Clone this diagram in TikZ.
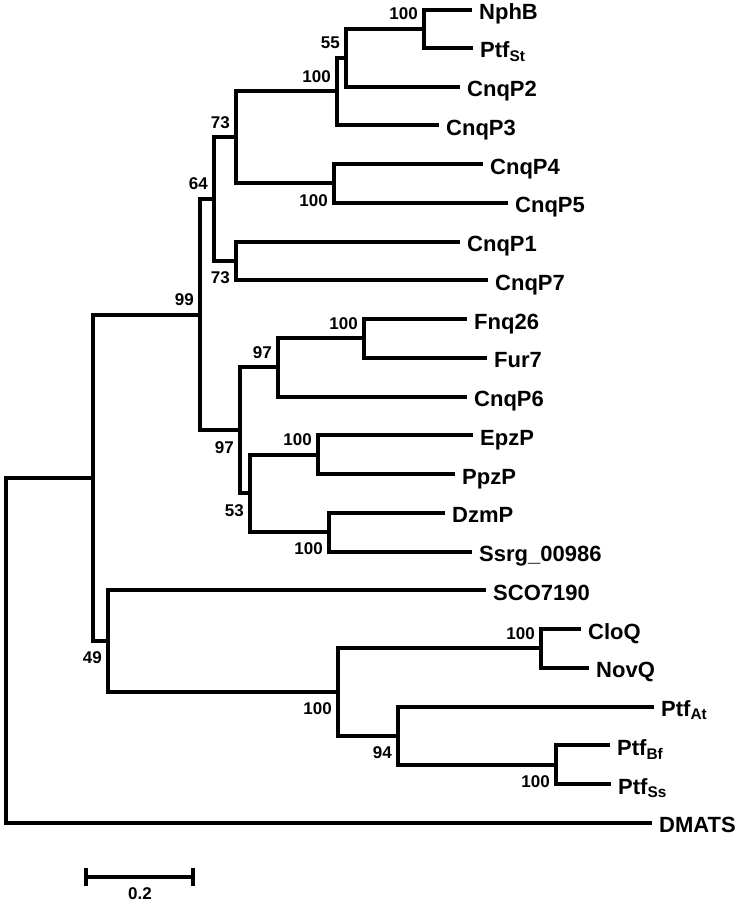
\documentclass[tikz,border=0pt]{standalone}
\usepackage{fontspec}
\setmainfont{Liberation Sans}
\begin{document}
\begin{tikzpicture}[x=1pt,y=-1pt,
  branch/.style={line width=4pt,line cap=butt,line join=miter,black},
  leaf/.style={anchor=base west,inner sep=0pt,font=\bfseries\fontsize{22}{25}\selectfont},
  bs/.style={anchor=east,inner sep=0pt,font=\bfseries\fontsize{17}{20}\selectfont}]
\useasboundingbox (0,0) rectangle (740,905);
% leaf line ends
\coordinate (nphbE)  at (472,9.5);
\coordinate (ptfstE) at (473,47.75);
\coordinate (p2E)    at (460,86.5);
\coordinate (p3E)    at (439,125.25);
\coordinate (p4E)    at (483,164);
\coordinate (p5E)    at (508,202.75);
\coordinate (p1E)    at (460,241.5);
\coordinate (p7E)    at (488,280.25);
\coordinate (fnqE)   at (467,319);
\coordinate (furE)   at (487,357.75);
\coordinate (p6E)    at (467,396.5);
\coordinate (epzE)   at (473,435.25);
\coordinate (ppzE)   at (455,474);
\coordinate (dzmE)   at (445,512.75);
\coordinate (ssrgE)  at (472,551.5);
\coordinate (scoE)   at (486,590.25);
\coordinate (cloqE)  at (581,629);
\coordinate (novqE)  at (589,667.75);
\coordinate (ptfatE) at (654,706.5);
\coordinate (ptfbfE) at (610,745.25);
\coordinate (ptfssE) at (611,784);
\coordinate (dmatsE) at (652,822.75);
% leaf labels
\node[leaf] (nphb)  at ([shift={(7,10)}]nphbE)  {NphB};
\node[leaf] (ptfst) at ([shift={(7,10)}]ptfstE) {Ptf\textsubscript{St}};
\node[leaf] (p2)    at ([shift={(7,10)}]p2E)    {CnqP2};
\node[leaf] (p3)    at ([shift={(7,10)}]p3E)    {CnqP3};
\node[leaf] (p4)    at ([shift={(7,10)}]p4E)    {CnqP4};
\node[leaf] (p5)    at ([shift={(7,10)}]p5E)    {CnqP5};
\node[leaf] (p1)    at ([shift={(7,10)}]p1E)    {CnqP1};
\node[leaf] (p7)    at ([shift={(7,10)}]p7E)    {CnqP7};
\node[leaf] (fnq)   at ([shift={(7,10)}]fnqE)   {Fnq26};
\node[leaf] (fur)   at ([shift={(7,10)}]furE)   {Fur7};
\node[leaf] (p6)    at ([shift={(7,10)}]p6E)    {CnqP6};
\node[leaf] (epz)   at ([shift={(7,10)}]epzE)   {EpzP};
\node[leaf] (ppz)   at ([shift={(7,10)}]ppzE)   {PpzP};
\node[leaf] (dzm)   at ([shift={(7,10)}]dzmE)   {DzmP};
\node[leaf] (ssrg)  at ([shift={(7,10)}]ssrgE)  {Ssrg\_00986};
\node[leaf] (sco)   at ([shift={(7,10)}]scoE)   {SCO7190};
\node[leaf] (cloq)  at ([shift={(7,10)}]cloqE)  {CloQ};
\node[leaf] (novq)  at ([shift={(7,10)}]novqE)  {NovQ};
\node[leaf] (ptfat) at ([shift={(7,10)}]ptfatE) {Ptf\textsubscript{At}};
\node[leaf] (ptfbf) at ([shift={(7,10)}]ptfbfE) {Ptf\textsubscript{Bf}};
\node[leaf] (ptfss) at ([shift={(7,10)}]ptfssE) {Ptf\textsubscript{Ss}};
\node[leaf] (dmats) at ([shift={(7,10)}]dmatsE) {DMATS};
% internal nodes
\coordinate (A) at (424,28.6);
\coordinate (B) at (346,57.55);
\coordinate (C) at (337,91.4);
\coordinate (D) at (334,183.375);
\coordinate (E) at (236,137.39);
\coordinate (F) at (236,260.875);
\coordinate (G) at (214,199.13);
\coordinate (H) at (364,338.375);
\coordinate (I) at (278,367.44);
\coordinate (J) at (318,454.625);
\coordinate (K) at (329,532.125);
\coordinate (L) at (250,493.375);
\coordinate (M) at (240,430.41);
\coordinate (N) at (200,314.77);
\coordinate (O) at (541,648.375);
\coordinate (P) at (556,764.625);
\coordinate (Q) at (398,735.56);
\coordinate (R) at (338,691.97);
\coordinate (S) at (108,641.11);
\coordinate (T) at (93,477.94);
\coordinate (root) at (6,650.35);
% branches
\begin{scope}[branch]
\draw (root) |- (T);   \draw (root) |- (dmatsE);
\draw (T) |- (N);      \draw (T) |- (S);
\draw (N) |- (G);      \draw (N) |- (M);
\draw (G) |- (E);      \draw (G) |- (F);
\draw (E) |- (C);      \draw (E) |- (D);
\draw (C) |- (B);      \draw (C) |- (p3E);
\draw (B) |- (A);      \draw (B) |- (p2E);
\draw (A) |- (nphbE);  \draw (A) |- (ptfstE);
\draw (D) |- (p4E);    \draw (D) |- (p5E);
\draw (F) |- (p1E);    \draw (F) |- (p7E);
\draw (M) |- (I);      \draw (M) |- (L);
\draw (I) |- (H);      \draw (I) |- (p6E);
\draw (H) |- (fnqE);   \draw (H) |- (furE);
\draw (L) |- (J);      \draw (L) |- (K);
\draw (J) |- (epzE);   \draw (J) |- (ppzE);
\draw (K) |- (dzmE);   \draw (K) |- (ssrgE);
\draw (S) |- (scoE);   \draw (S) |- (R);
\draw (R) |- (O);      \draw (R) |- (Q);
\draw (O) |- (cloqE);  \draw (O) |- (novqE);
\draw (Q) |- (ptfatE); \draw (Q) |- (P);
\draw (P) |- (ptfbfE); \draw (P) |- (ptfssE);
\end{scope}
% bootstrap values
\node[bs] (bA) at ([shift={(-6,-15)}]A) {100};
\node[bs] (bB) at ([shift={(-6,-15)}]B) {55};
\node[bs] (bC) at ([shift={(-6,-15)}]C) {100};
\node[bs] (bD) at ([shift={(-6,17)}]D) {100};
\node[bs] (bE) at ([shift={(-6,-15)}]E) {73};
\node[bs] (bF) at ([shift={(-6,17)}]F) {73};
\node[bs] (bG) at ([shift={(-6,-15)}]G) {64};
\node[bs] (bN) at ([shift={(-6,-15)}]N) {99};
\node[bs] (bH) at ([shift={(-6,-15)}]H) {100};
\node[bs] (bI) at ([shift={(-6,-15)}]I) {97};
\node[bs] (bM) at ([shift={(-6,17)}]M) {97};
\node[bs] (bJ) at ([shift={(-6,-15)}]J) {100};
\node[bs] (bL) at ([shift={(-6,17)}]L) {53};
\node[bs] (bK) at ([shift={(-6,17)}]K) {100};
\node[bs] (bS) at ([shift={(-6,17)}]S) {49};
\node[bs] (bR) at ([shift={(-6,17)}]R) {100};
\node[bs] (bO) at ([shift={(-6,-15)}]O) {100};
\node[bs] (bQ) at ([shift={(-6,17)}]Q) {94};
\node[bs] (bP) at ([shift={(-6,17)}]P) {100};
% scale bar
\coordinate (sb1) at (86,877);
\coordinate (sb2) at (193,877);
\coordinate (sb1t) at (86,868);
\coordinate (sb1b) at (86,886);
\coordinate (sb2t) at (193,868);
\coordinate (sb2b) at (193,886);
\draw[branch] (sb1) -- (sb2);
\draw[branch] (sb1t) -- (sb1b);
\draw[branch] (sb2t) -- (sb2b);
\node[font=\bfseries\fontsize{17}{20}\selectfont,inner sep=0pt] (sblab) at (140,894) {0.2};
\end{tikzpicture}
\end{document}
